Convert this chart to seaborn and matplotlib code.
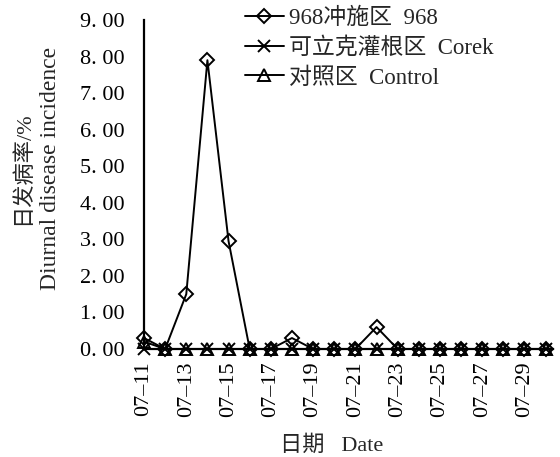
import matplotlib
matplotlib.use("Agg")
import matplotlib.pyplot as plt
import seaborn as sns
import pandas as pd
from matplotlib.ticker import FuncFormatter, FixedLocator

sns.set_theme(style="white")
plt.rcParams['font.family'] = ['Liberation Serif', 'Noto Sans CJK SC', 'DejaVu Sans']

dates = ["07-11", "07-12", "07-13", "07-14", "07-15", "07-16", "07-17", "07-18", "07-19", "07-20",
         "07-21", "07-22", "07-23", "07-24", "07-25", "07-26", "07-27", "07-28", "07-29", "07-30"]
s968 = [0.30, 0.00, 1.50, 7.90, 2.95, 0.00, 0.00, 0.30, 0.00, 0.00,
        0.00, 0.60, 0.00, 0.00, 0.00, 0.00, 0.00, 0.00, 0.00, 0.00]
corek = [0.00] * 20
control = [0.20, 0.00, 0.00, 0.00, 0.00, 0.00, 0.00, 0.00, 0.00, 0.00,
           0.00, 0.00, 0.00, 0.00, 0.00, 0.00, 0.00, 0.00, 0.00, 0.00]
names = ["968冲施区  968", "可立克灌根区  Corek", "对照区  Control"]
yticks = [0, 1, 2, 3, 4, 5, 6, 7, 8, 9]

fig = plt.figure(figsize=(5.6, 4.57), dpi=100)
ax = fig.add_axes([144/560, (457-349)/457, (553-144)/560, (349-20)/457])

styles = [dict(marker='D', ms=7), dict(marker='x', ms=8), dict(marker='^', ms=8)]
for name, vals, st in zip(names, [s968, corek, control], styles):
    df = pd.DataFrame({"idx": range(len(dates)), "val": vals})
    sns.lineplot(data=df, x="idx", y="val", ax=ax, color='black', lw=1.4,
                 marker=st['marker'], markersize=st['ms'], markerfacecolor='none',
                 markeredgecolor='black', markeredgewidth=1.4, label=name, clip_on=False)

ax.set_xlim(0, 19.35)
ax.set_ylim(0, 9)
ax.yaxis.set_major_locator(FixedLocator(yticks))
ax.yaxis.set_major_formatter(FuncFormatter(lambda v, p: f"{v:.2f}".replace(".", ". ")))
ax.set_xticks(range(0, len(dates), 2))
ax.set_xticklabels([d.replace("-", "–") for d in dates[::2]], rotation=90)
ax.set_xlabel("")
ax.set_ylabel("")
for s in ['top', 'right']:
    ax.spines[s].set_visible(False)
for s in ['left', 'bottom']:
    ax.spines[s].set_color('black')
    ax.spines[s].set_linewidth(1.6)
ax.tick_params(axis='y', direction='in', length=5, width=1.5, colors='black', labelsize=16, pad=14)
ax.tick_params(axis='x', direction='in', length=0, colors='black', labelsize=16, pad=9)

fig.text(23/560, 1 - 168/457, "日发病率/%", rotation=90, ha='center', va='center', fontsize=16)
fig.text(51/560, 1 - 168/457, "Diurnal disease incidence", rotation=90, ha='center', va='center', fontsize=17)
fig.text(332/560, 1 - 446/457, "日期   Date", ha='center', va='center', fontsize=16)

leg = ax.legend(loc='upper left', bbox_to_anchor=(245/560, 1 - 8/457), bbox_transform=fig.transFigure,
                frameon=False, fontsize=16.5, handlelength=1.7, handletextpad=0.2, labelspacing=0.35,
                borderaxespad=0, borderpad=0)

fig.savefig("out.png", dpi=100)
